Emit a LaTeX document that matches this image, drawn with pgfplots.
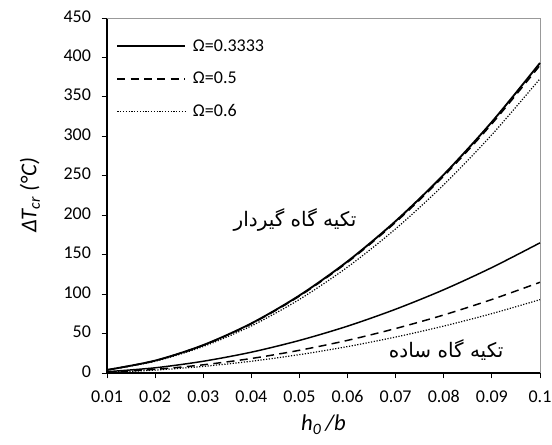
\documentclass[border=0pt]{standalone}
\usepackage{fontspec}
\setmainfont{Carlito}
\newfontfamily\arabicfont[Script=Arabic]{DejaVu Sans}
\TeXXeTstate=1
\usepackage{pgfplots}
\pgfplotsset{compat=1.18}

\begin{document}
\begin{tikzpicture}
\useasboundingbox (-80.25pt,-53.25pt) rectangle (333.75pt,279.75pt);
\begin{axis}[
  at={(0,0)}, anchor=south west,
  scale only axis, width=324.75pt, height=266.25pt,
  xmin=0.01, xmax=0.1, ymin=0, ymax=450,
  xtick={0.01,0.02,0.03,0.04,0.05,0.06,0.07,0.08,0.09,0.1},
  xticklabels={0.01,0.02,0.03,0.04,0.05,0.06,0.07,0.08,0.09,0.1},
  ytick={0,50,100,150,200,250,300,350,400,450},
  /pgf/number format/assume math mode=true,
  typeset ticklabels with strut,
  axis lines=left, axis line style={-, black, line width=0.8pt},
  tick align=outside, tick style={black, line width=0.6pt},
  major tick length=4pt,
  ticklabel style={font=\fontsize{13.5}{15}\selectfont},
  xticklabel style={yshift=-4pt},
  yticklabel style={xshift=-4.5pt},
  xlabel={\textit{h\textsubscript{0}\,/b}},
  ylabel={\textit{ΔT\textsubscript{cr} (°C)}},
  label style={font=\fontsize{17}{19}\selectfont},
  xlabel style={at={(axis description cs:0.5,-0.146)}, anchor=center},
  ylabel style={at={(axis description cs:-0.178,0.5)}, anchor=center, rotate=0},
  clip=false,
  legend style={draw=none, fill=none, at={(axis description cs:0.012,0.955)}, anchor=north west,
    font=\fontsize{13.5}{15}\selectfont, row sep=10pt},
  legend cell align=left,
  legend image code/.code={\draw[#1] (0pt,0pt) -- (51pt,0pt);},
  legend style={nodes={inner xsep=5pt}},
]
\draw[gray!80, line width=0.6pt] (rel axis cs:0,1) -- (rel axis cs:1,1) -- (rel axis cs:1,0);

% clamped
\addplot[black, line width=1.4pt, smooth] coordinates {
  (0.01,3.9)(0.02,15.7)(0.03,35.4)(0.04,62.9)(0.05,98.3)
  (0.06,141.5)(0.07,192.6)(0.08,251.5)(0.09,318.3)(0.1,393)};
\addlegendentry{Ω=0.3333}
\addplot[black, line width=1.1pt, dash pattern=on 6pt off 4pt, smooth] coordinates {
  (0.01,3.9)(0.02,15.6)(0.03,35.1)(0.04,62.4)(0.05,97.5)
  (0.06,140.4)(0.07,191.1)(0.08,249.6)(0.09,315.9)(0.1,390)};
\addlegendentry{Ω=0.5}
\addplot[black, line width=0.9pt, dash pattern=on 0.9pt off 1.2pt, smooth] coordinates {
  (0.01,3.7)(0.02,14.9)(0.03,33.6)(0.04,59.7)(0.05,93.3)
  (0.06,134.3)(0.07,182.8)(0.08,238.7)(0.09,302.1)(0.1,373)};
\addlegendentry{Ω=0.6}

% simply supported
\addplot[black, line width=1.1pt, smooth, forget plot] coordinates {
  (0.01,1.65)(0.02,6.6)(0.03,14.9)(0.04,26.4)(0.05,41.3)
  (0.06,59.4)(0.07,80.9)(0.08,105.6)(0.09,133.7)(0.1,165)};
\addplot[black, line width=1.1pt, dash pattern=on 6pt off 4pt, smooth, forget plot] coordinates {
  (0.01,1.15)(0.02,4.6)(0.03,10.4)(0.04,18.4)(0.05,28.8)
  (0.06,41.4)(0.07,56.4)(0.08,73.6)(0.09,93.2)(0.1,115)};
\addplot[black, line width=0.9pt, dash pattern=on 0.9pt off 1.2pt, smooth, forget plot] coordinates {
  (0.01,0.93)(0.02,3.7)(0.03,8.4)(0.04,14.9)(0.05,23.3)
  (0.06,33.5)(0.07,45.6)(0.08,59.5)(0.09,75.3)(0.1,93)};

\node[font=\fontsize{15}{17}\selectfont\arabicfont] at (axis cs:0.0491,194) {\beginR تکیه گاه گیردار\endR};
\node[font=\fontsize{15}{17}\selectfont\arabicfont] at (axis cs:0.0805,29) {\beginR تکیه گاه ساده\endR};
\end{axis}
\end{tikzpicture}
\end{document}
